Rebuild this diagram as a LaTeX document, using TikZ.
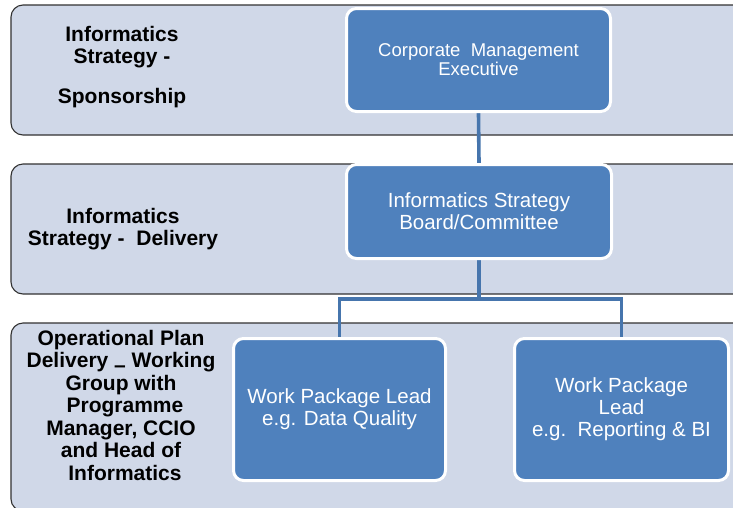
\documentclass[tikz,border=0pt]{standalone}
\usepackage{fontspec}
\setmainfont{Liberation Sans}
\definecolor{panelfill}{RGB}{208,216,232}
\definecolor{paneldraw}{RGB}{50,50,50}
\definecolor{boxblue}{RGB}{79,129,189}
\definecolor{linkblue}{RGB}{70,117,173}
\pgfdeclarelayer{panels}
\pgfdeclarelayer{links}
\pgfsetlayers{panels,links,main}
\tikzset{
  panel/.style={fill=panelfill, draw=paneldraw, line width=1.1pt, rounded corners=12pt},
  wbox/.style={rectangle, rounded corners=10pt, fill=boxblue, draw=white, line width=3pt,
    inner sep=0pt, align=center, text=white},
  link/.style={draw=linkblue, line width=3.6pt, line join=miter},
  lbl/.style={align=center, inner sep=0pt, font=\fontsize{21}{22.5}\selectfont\bfseries}
}
\begin{document}
\begin{tikzpicture}[x=1pt,y=-1pt]
\useasboundingbox (0,0) rectangle (733,507);
\begin{pgfonlayer}{panels}
  \fill[white] (0,0) rectangle (733,507);
  \clip (0,0) rectangle (733,507);
  \path[panel] (11,5) rectangle (760,135);
  \path[panel] (11,164) rectangle (760,294);
  \path[panel] (11,323) rectangle (760,511);
\end{pgfonlayer}

% left labels
\node[lbl] (l1) at (122,67) {Informatics\\Strategy -\\[17.5pt]Sponsorship};
\node[lbl] (l2) at (123,229) {Informatics\\Strategy -\ \ Delivery};
\node[lbl] (l3) at (121,405) {Operational Plan\\Delivery \smash{\raisebox{-0.26em}{–}} Working\\Group with\\\hspace*{8pt}Programme\\Manager, CCIO\\and Head of\hspace*{24pt}\\\hspace*{8pt}Informatics};

% boxes
\node[wbox, minimum width=264pt, minimum height=103pt, font=\fontsize{18.5}{19}\selectfont] (cme) at (478.5,60) {Corporate\ \ Management\\Executive};
\node[wbox, minimum width=265pt, minimum height=94pt, font=\fontsize{20.5}{22}\selectfont] (isb) at (479,211.5) {Informatics Strategy\\Board/Committee};
\node[wbox, minimum width=212pt, minimum height=142pt, font=\fontsize{20.5}{22}\selectfont] (wp1) at (339.5,409.5) {Work Package Lead\\e.g. Data Quality};
\node[wbox, minimum width=214pt, minimum height=142pt, font=\fontsize{20.5}{22}\selectfont] (wp2) at (621.5,409.5) {Work Package\\Lead\\e.g.\ \ Reporting \& BI};

\coordinate (split) at (479,299);
\begin{pgfonlayer}{links}
  \draw[link] (cme.south) -- (isb.north);
  \draw[link] (isb.south) -- (split) -| (wp1.north);
  \draw[link] (split) -| (wp2.north);
\end{pgfonlayer}
\end{tikzpicture}
\end{document}
